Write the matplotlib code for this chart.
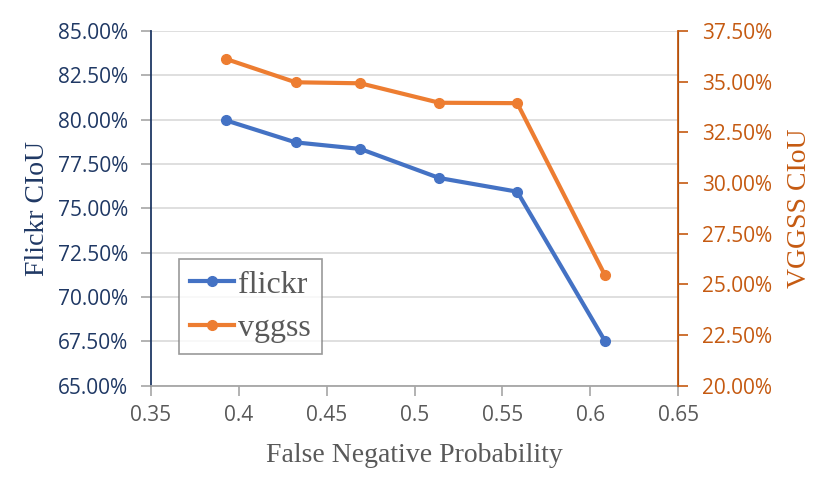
import matplotlib.pyplot as plt
from matplotlib.ticker import PercentFormatter, MultipleLocator

# datos
fn_prob = [0.3928, 0.4324, 0.4692, 0.5141, 0.5584, 0.6083]
flickr = [79.96, 78.72, 78.35, 76.71, 75.94, 67.52]
vggss = [36.12, 34.97, 34.92, 33.96, 33.94, 25.45]

azul = '#4472C4'
naranja = '#ED7D31'
navy = '#1F3864'
naranja_osc = '#C55A11'
gris = '#595959'
serif = 'Liberation Serif'
sans = 'Open Sans'

fig = plt.figure(figsize=(8.3, 4.87), dpi=100)
ax = fig.add_axes([150.7 / 830, 1 - 385.7 / 487, (678.3 - 150.7) / 830, (385.7 - 31) / 487])
ax2 = ax.twinx()

l1, = ax.plot(fn_prob, flickr, color=azul, lw=3, marker='o', ms=7, label='flickr', zorder=3)
l2, = ax2.plot(fn_prob, vggss, color=naranja, lw=3, marker='o', ms=7, label='vggss', zorder=3)

# ejes
ax.set_xlim(0.35, 0.65)
ax.set_ylim(65, 85)
ax2.set_ylim(20, 37.5)
ax.yaxis.set_major_locator(MultipleLocator(2.5))
ax2.yaxis.set_major_locator(MultipleLocator(2.5))
ax.yaxis.set_major_formatter(PercentFormatter(decimals=2))
ax2.yaxis.set_major_formatter(PercentFormatter(decimals=2))
ax.set_xticks([0.35, 0.4, 0.45, 0.5, 0.55, 0.6, 0.65])
ax.set_xticklabels(['0.35', '0.4', '0.45', '0.5', '0.55', '0.6', '0.65'])

ax.grid(axis='y', color='#D9D9D9', lw=1.2)
ax.set_axisbelow(True)

ax.spines['top'].set_visible(False)
ax2.spines['top'].set_visible(False)
ax.spines['left'].set_color(navy)
ax.spines['left'].set_linewidth(1.3)
ax.spines['bottom'].set_color('#A6A6A6')
ax.spines['bottom'].set_linewidth(1.3)
ax2.spines['right'].set_color(naranja_osc)
ax2.spines['right'].set_linewidth(1.3)
ax2.spines['left'].set_visible(False)
ax2.spines['bottom'].set_visible(False)

ax.tick_params(axis='y', colors='#A6A6A6', labelcolor=navy, length=7, width=1.2,
               labelsize=15, pad=9)
ax.tick_params(axis='x', colors='#A6A6A6', labelcolor=gris, length=7, width=1.2,
               labelsize=15, pad=7)
ax2.tick_params(axis='y', colors=naranja_osc, labelcolor=naranja_osc, length=7, width=1.2,
                labelsize=15, pad=10)
for lab in ax.get_xticklabels() + ax.get_yticklabels() + ax2.get_yticklabels():
    lab.set_fontfamily(sans)

ax.set_xlabel('False Negative Probability', family=serif, fontsize=20, color=gris, labelpad=12)
ax.set_ylabel('Flickr CIoU', family=serif, fontsize=20, color=navy, labelpad=6)
ax2.set_ylabel('VGGSS CIoU', family=serif, fontsize=20, color=naranja_osc, labelpad=11)

leg = ax2.legend(handles=[l1, l2], loc='upper left', bbox_to_anchor=(28.5 / 527.6, (385.7 - 259) / 354.7),
                 prop={'family': serif, 'size': 23}, frameon=True, fancybox=False,
                 edgecolor='#808080', handlelength=1.35, handletextpad=0.15,
                 borderpad=0.35, labelspacing=0.45, borderaxespad=0)
leg.get_frame().set_linewidth(1.2)
for t in leg.get_texts():
    t.set_color(gris)

fig.savefig('out.png', dpi=100)
